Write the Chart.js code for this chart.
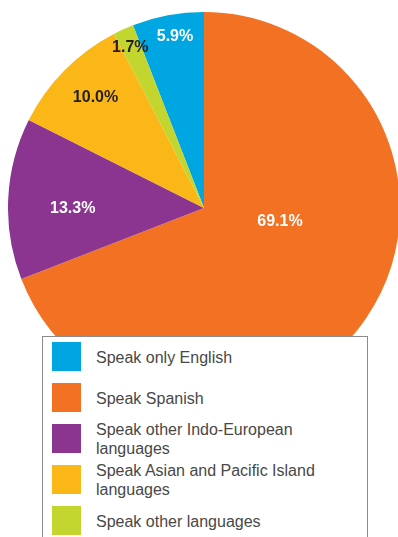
<!DOCTYPE html>
<html>
<head>
<meta charset="utf-8">
<script src="https://cdn.jsdelivr.net/npm/chart.js@4/dist/chart.umd.min.js"></script>
<style>
  html, body { margin: 0; padding: 0; background: #fff; overflow: hidden; }
  body { width: 398px; height: 537px; position: relative; }
  #pieWrap { position: absolute; left: 8px; top: 12px; width: 392px; height: 392px; }
  #legenda {
    position: absolute; left: 42px; top: 336px; width: 324px; height: 220px;
    background: #fff; border: 1px solid #8c8c8c;
    font-family: "Liberation Sans", Arial, sans-serif; font-size: 16px; color: #484848;
  }
  .linha { position: absolute; left: 0; right: 0; height: 29px; }
  .cor { position: absolute; left: 9px; top: 0; width: 29px; height: 29px; }
  .texto {
    position: absolute; left: 53px; top: 50%; transform: translateY(-50%);
    width: 255px; line-height: 19px;
  }
</style>
</head>
<body>
<div id="pieWrap"><canvas id="pizza"></canvas></div>
<div id="legenda"></div>
<script>
// categorias e percentuais (mesma ordem da legenda)
const categorias = [
  "Speak only English",
  "Speak Spanish",
  "Speak other Indo-European languages",
  "Speak Asian and Pacific Island languages",
  "Speak other languages",
];
const percentuais = [5.9, 69.1, 13.3, 10.0, 1.7];

const cores = ["#00a6e2", "#f37123", "#8b3591", "#fbb717", "#c2d62f"];
const corRotulo = ["#ffffff", "#ffffff", "#ffffff", "#231f20", "#231f20"];
// ajuste fino de onde cada rótulo fica dentro da fatia (graus / fração do raio)
const desvioAngulo = [1.0, -24, -3.1, 0.9, -0.4];
const fracaoRaio = [0.885, 0.394, 0.67, 0.79, 0.9];

// a fatia azul termina exatamente no topo
const rotacao = -percentuais[0] * 3.6;

const rotulosPlugin = {
  id: "rotulos",
  afterDatasetsDraw(chart) {
    const ctx = chart.ctx;
    const arcos = chart.getDatasetMeta(0).data;
    ctx.save();
    ctx.font = "bold 16px 'Liberation Sans', Arial, sans-serif";
    ctx.textAlign = "center";
    ctx.textBaseline = "middle";
    arcos.forEach((arco, i) => {
      const p = arco.getProps(["x", "y", "startAngle", "endAngle", "outerRadius"], true);
      const meio = (p.startAngle + p.endAngle) / 2 + desvioAngulo[i] * Math.PI / 180;
      const r = p.outerRadius * fracaoRaio[i];
      ctx.fillStyle = corRotulo[i];
      ctx.fillText(percentuais[i].toFixed(1) + "%", p.x + r * Math.cos(meio), p.y + r * Math.sin(meio));
    });
    ctx.restore();
  },
};

new Chart(document.getElementById("pizza"), {
  type: "pie",
  data: {
    labels: categorias,
    datasets: [{
      data: percentuais,
      backgroundColor: cores,
      borderWidth: 0,
    }],
  },
  options: {
    responsive: true,
    maintainAspectRatio: false,
    animation: false,
    rotation: rotacao,
    layout: { padding: 0 },
    plugins: {
      legend: { display: false },
      tooltip: { enabled: false },
    },
  },
  plugins: [rotulosPlugin],
});

// legenda montada em HTML a partir dos mesmos arrays
const legendaEl = document.getElementById("legenda");
categorias.forEach((nome, i) => {
  const linha = document.createElement("div");
  linha.className = "linha";
  linha.style.top = (5 + i * 41) + "px";
  linha.innerHTML = `<div class="cor" style="background:${cores[i]}"></div><div class="texto">${nome}</div>`;
  legendaEl.appendChild(linha);
});
</script>
</body>
</html>
